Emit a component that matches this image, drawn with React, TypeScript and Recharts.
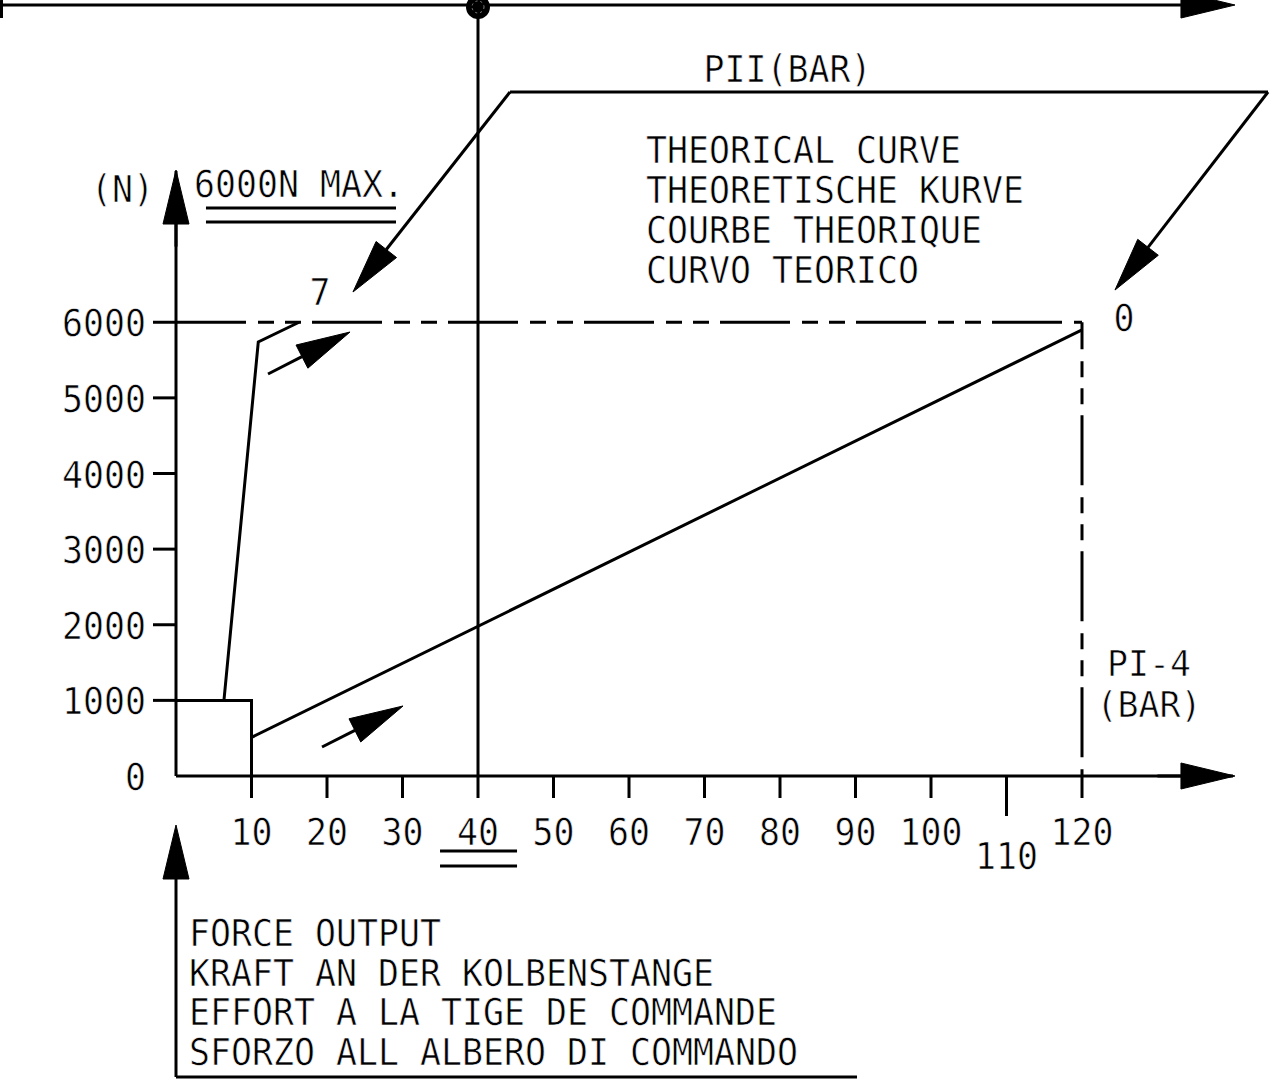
import React from 'react';
import { ComposedChart, Line, XAxis, YAxis, ReferenceLine, ReferenceDot } from 'recharts';

// ---------- data ----------
const X_TICKS = [10, 20, 30, 40, 50, 60, 70, 80, 90, 100, 110, 120];
const Y_TICKS = [0, 1000, 2000, 3000, 4000, 5000, 6000];

// PI-4 (bar) vs force (N)
const limitBoxSeries = [
  { x: 0, y: 1000 },
  { x: 10, y: 1000 },
  { x: 10, y: 0 },
];
const piiCurveSeries = [
  { x: 6.35, y: 1000 },
  { x: 10.9, y: 5740 },
  { x: 16.3, y: 6000 },
];
const pi4CurveSeries = [
  { x: 10, y: 510 },
  { x: 120, y: 5900 },
];
const maxForceLine = [
  { x: 0, y: 6000 },
  { x: 120, y: 6000 },
];
const maxPressureLine = [
  { x: 120, y: 6000 },
  { x: 120, y: 0 },
];
const PII_AXIS_X = 40;

const Y_UNIT = '(N)';
const MAX_LABEL = '6000N MAX.';
const TOP_AXIS_LABEL = 'PII(BAR)';
const X_AXIS_LABEL = ['PI-4', '(BAR)'];
const CURVE_LABELS = ['7', '0'];
const TITLE_LINES = ['THEORICAL CURVE', 'THEORETISCHE KURVE', 'COURBE THEORIQUE', 'CURVO TEORICO'];
const FOOTER_LINES = [
  'FORCE OUTPUT',
  'KRAFT AN DER KOLBENSTANGE',
  'EFFORT A LA TIGE DE COMMANDE',
  'SFORZO ALL ALBERO DI COMMANDO',
];

// ---------- styling helpers ----------
const FONT = "'DejaVu Sans Mono', 'Liberation Mono', monospace";
const CH = 21;
const SW = 3;

function T({ x, y, anchor = 'start', size = 37, children }: any) {
  const s = String(children);
  return (
    <text
      x={x}
      y={y}
      textAnchor={anchor}
      fontFamily={FONT}
      fontSize={size}
      textLength={s.length * CH}
      lengthAdjust="spacingAndGlyphs"
      fill="#000"
      stroke="#fff"
      strokeWidth={0.6}
    >
      {s}
    </text>
  );
}

const XTick = (p: any) => {
  const { x, y, payload } = p;
  const v = payload.value;
  const long = v === 110;
  return (
    <g>
      <line x1={x} y1={y} x2={x} y2={y + (long ? 40 : 22)} stroke="#000" strokeWidth={SW} />
      <T x={x} y={y + (long ? 93 : 69)} anchor="middle">
        {v}
      </T>
    </g>
  );
};

const YTick = (p: any) => {
  const { x, y, payload } = p;
  const v = payload.value;
  return (
    <g>
      {v !== 0 && <line x1={x - 23} y1={y} x2={x} y2={y} stroke="#000" strokeWidth={SW} />}
      <T x={x - 30} y={y + 14} anchor="end">
        {v}
      </T>
    </g>
  );
};

const plainShape = (p: any) => (
  <line x1={p.x1} y1={p.y1} x2={p.x2} y2={p.y2} stroke="#000" strokeWidth={SW} />
);

const dashShape = (offset: number) => (p: any) => (
  <line
    x1={p.x1}
    y1={p.y1}
    x2={p.x2}
    y2={p.y2}
    stroke="#000"
    strokeWidth={SW}
    strokeDasharray="70 12 16 11 16 11"
    strokeDashoffset={offset}
  />
);

const arrowShape = (p: any) => {
  const { x1, y1, x2, y2 } = p;
  const L = 54;
  const W = 13;
  const dx = x2 - x1;
  const dy = y2 - y1;
  const len = Math.hypot(dx, dy) || 1;
  const ux = dx / len;
  const uy = dy / len;
  const bx = x2 - ux * L;
  const by = y2 - uy * L;
  const pts = `${x2},${y2} ${bx - uy * W},${by + ux * W} ${bx + uy * W},${by - ux * W}`;
  return (
    <g>
      <line x1={x1} y1={y1} x2={bx} y2={by} stroke="#000" strokeWidth={SW} />
      <polygon points={pts} fill="#000" stroke="#000" strokeWidth={1} />
    </g>
  );
};

const seg = (a: [number, number], b: [number, number]) => [
  { x: a[0], y: a[1] },
  { x: b[0], y: b[1] },
];

function textDot(key: string, x: number, y: number, str: string, anchor = 'start', size = 37) {
  return (
    <ReferenceDot
      key={key}
      x={x}
      y={y}
      r={1}
      ifOverflow="visible"
      shape={(p: any) => (
        <T x={p.cx} y={p.cy} anchor={anchor} size={size}>
          {str}
        </T>
      )}
    />
  );
}

export default function App() {
  const titleBase = [8106, 7577, 7048, 6519];
  const footerBase = [-2248, -2777, -3293, -3822];
  return (
    <div style={{ position: 'absolute', left: 0, top: 0, width: 1274, height: 1082, background: '#fff' }}>
      <ComposedChart width={1274} height={1082} margin={{ top: 171, right: 41, bottom: 305, left: 175 }}>
        <XAxis
          type="number"
          dataKey="x"
          domain={[0, 140]}
          allowDataOverflow
          ticks={X_TICKS}
          interval={0}
          height={1}
          tickSize={0}
          tickMargin={0}
          tickLine={false}
          axisLine={{ stroke: '#000', strokeWidth: SW }}
          tick={XTick}
        />
        <YAxis
          type="number"
          domain={[0, 8000]}
          allowDataOverflow
          ticks={Y_TICKS}
          interval={0}
          width={1}
          tickSize={0}
          tickMargin={0}
          tickLine={false}
          axisLine={{ stroke: '#000', strokeWidth: SW }}
          tick={YTick}
        />

        {/* dashed limits */}
        <ReferenceLine segment={maxForceLine} ifOverflow="visible" shape={dashShape(0)} />
        <ReferenceLine segment={maxPressureLine} ifOverflow="visible" shape={dashShape(43)} />

        {/* data curves */}
        <Line data={limitBoxSeries} dataKey="y" type="linear" stroke="#000" strokeWidth={SW} dot={false} activeDot={false} isAnimationActive={false} />
        <Line data={piiCurveSeries} dataKey="y" type="linear" stroke="#000" strokeWidth={SW} dot={false} activeDot={false} isAnimationActive={false} />
        <Line data={pi4CurveSeries} dataKey="y" type="linear" stroke="#000" strokeWidth={SW} dot={false} activeDot={false} isAnimationActive={false} />

        {/* PII axis (vertical at 40) and top horizontal axis */}
        <ReferenceLine segment={seg([PII_AXIS_X, 10195], [PII_AXIS_X, 0])} ifOverflow="visible" shape={plainShape} />
        <ReferenceLine segment={seg([-23.31, 10195], [140.26, 10195])} ifOverflow="visible" shape={arrowShape} />
        <ReferenceLine segment={seg([-23.11, 10261], [-23.11, 10023])} ifOverflow="visible" shape={plainShape} />
        <ReferenceDot
          x={PII_AXIS_X}
          y={10169}
          r={12}
          ifOverflow="visible"
          shape={(p: any) => (
            <g>
              <circle cx={p.cx} cy={p.cy} r={12} fill="#000" />
              <circle cx={p.cx} cy={p.cy} r={6} fill="none" stroke="#888" strokeWidth={1} strokeDasharray="2 3" />
            </g>
          )}
        />

        {/* axis arrowheads */}
        <ReferenceLine segment={seg([130, 0], [140.26, 0])} ifOverflow="visible" shape={arrowShape} />
        <ReferenceLine segment={seg([0, 7000], [0, 8013])} ifOverflow="visible" shape={arrowShape} />

        {/* PII(BAR) leader */}
        <ReferenceLine segment={seg([44.24, 9045], [23.44, 6400])} ifOverflow="visible" shape={arrowShape} />
        <ReferenceLine segment={seg([44.24, 9045], [144.64, 9045])} ifOverflow="visible" shape={plainShape} />
        <ReferenceLine segment={seg([144.64, 9045], [124.37, 6426])} ifOverflow="visible" shape={arrowShape} />

        {/* direction arrows */}
        <ReferenceLine segment={seg([12.19, 5316], [23.05, 5871])} ifOverflow="visible" shape={arrowShape} />
        <ReferenceLine segment={seg([19.34, 383], [30.07, 926])} ifOverflow="visible" shape={arrowShape} />

        {/* underlines */}
        <ReferenceLine segment={seg([3.97, 7511], [29.14, 7511])} ifOverflow="visible" shape={plainShape} />
        <ReferenceLine segment={seg([3.97, 7326], [29.14, 7326])} ifOverflow="visible" shape={plainShape} />
        <ReferenceLine segment={seg([34.97, -992], [45.17, -992])} ifOverflow="visible" shape={plainShape} />
        <ReferenceLine segment={seg([34.97, -1190], [45.17, -1190])} ifOverflow="visible" shape={plainShape} />

        {/* footer frame */}
        <ReferenceLine segment={seg([0, -3980], [0, -648])} ifOverflow="visible" shape={arrowShape} />
        <ReferenceLine segment={seg([0, -3980], [90.2, -3980])} ifOverflow="visible" shape={plainShape} />

        {/* texts */}
        {textDot('yunit', -2.91, 7590, Y_UNIT, 'end')}
        {textDot('max', 2.38, 7656, MAX_LABEL)}
        {textDot('c7', 19.07, 6228, CURVE_LABELS[0], 'middle')}
        {textDot('c0', 125.56, 5884, CURVE_LABELS[1], 'middle')}
        {textDot('pi4', 128.87, 1322, X_AXIS_LABEL[0], 'middle', 35)}
        {textDot('bar', 128.87, 780, X_AXIS_LABEL[1], 'middle', 35)}
        {textDot('pii', 80.99, 9177, TOP_AXIS_LABEL, 'middle')}
        {TITLE_LINES.map((s, i) => textDot('t' + i, 62.25, titleBase[i], s))}
        {FOOTER_LINES.map((s, i) => textDot('f' + i, 1.72, footerBase[i], s))}
      </ComposedChart>
    </div>
  );
}
